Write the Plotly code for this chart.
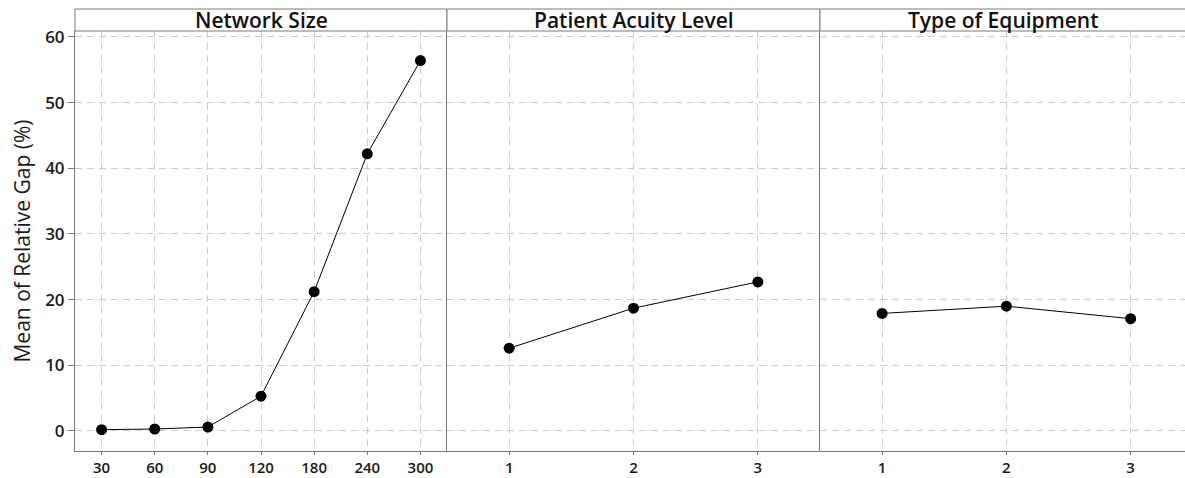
import plotly.graph_objects as go

# Data
network_sizes = ["30", "60", "90", "120", "180", "240", "300"]
network_gap = [0.2, 0.3, 0.6, 5.3, 21.2, 42.2, 56.4]

acuity_levels = [1, 2, 3]
acuity_gap = [12.6, 18.7, 22.7]

equipment_types = [1, 2, 3]
equipment_gap = [17.9, 19.0, 17.1]

panel_titles = ["Network Size", "Patient Acuity Level", "Type of Equipment"]
y_ticks = [0, 10, 20, 30, 40, 50, 60]

W, H = 1185, 478
ml, mr, mt, mb = 75, 0, 31, 27
pw = W - ml - mr
ph = H - mt - mb

def px_to_paper_x(px):
    return (px - ml) / pw

d1 = [0, px_to_paper_x(447)]
d2 = [px_to_paper_x(447), px_to_paper_x(820)]
d3 = [px_to_paper_x(820), 1.0]
header_top = 1 + 22 / ph

FONT = "Open Sans"
LINE = "#7a7a7a"
GRID = "#cccccc"

fig = go.Figure()
marker = dict(color="black", size=11)
line = dict(color="black", width=1)
fig.add_trace(go.Scatter(x=network_sizes, y=network_gap, mode="lines+markers",
                         marker=marker, line=line, xaxis="x", yaxis="y"))
fig.add_trace(go.Scatter(x=acuity_levels, y=acuity_gap, mode="lines+markers",
                         marker=marker, line=line, xaxis="x2", yaxis="y2"))
fig.add_trace(go.Scatter(x=equipment_types, y=equipment_gap, mode="lines+markers",
                         marker=marker, line=line, xaxis="x3", yaxis="y3"))

ytickfont = dict(family=FONT, size=17, color="#1a1a1a", weight=600)
xtickfont = dict(family=FONT, size=15, color="#1a1a1a", weight=600)
common_x = dict(showline=True, linecolor=LINE, linewidth=1, ticks="outside",
                ticklen=3, tickcolor=LINE, showgrid=True, gridcolor=GRID,
                griddash="7px,5px", gridwidth=1, zeroline=False,
                tickfont=xtickfont, fixedrange=True, automargin=False)
common_y = dict(showline=True, linecolor=LINE, linewidth=1, showgrid=True,
                gridcolor=GRID, griddash="7px,5px", gridwidth=1, zeroline=False,
                range=[-3.05, 60.9], tickvals=y_ticks, fixedrange=True,
                automargin=False)

x3_right = 1 + (W - 882) / 124.3

fig.update_layout(
    width=W, height=H,
    margin=dict(l=ml, r=mr, t=mt, b=mb),
    plot_bgcolor="white", paper_bgcolor="white",
    showlegend=False,
    xaxis=dict(domain=d1, type="category", range=[-0.5, 6.5], anchor="y", **common_x),
    xaxis2=dict(domain=d2, range=[0.5, 3.5], tickvals=acuity_levels, anchor="y2", **common_x),
    xaxis3=dict(domain=d3, range=[0.5, x3_right], tickvals=equipment_types, anchor="y3", **common_x),
    yaxis=dict(anchor="x", ticks="outside", ticklen=6, tickcolor=LINE,
               tickfont=ytickfont,
               title=dict(text="Mean of Relative Gap (%)",
                          font=dict(family=FONT, size=21, color="#1a1a1a", weight=500),
                          standoff=8),
               **common_y),
    yaxis2=dict(anchor="x2", matches="y", showticklabels=False, ticks="", **common_y),
    yaxis3=dict(anchor="x3", matches="y", showticklabels=False, ticks="", **common_y),
)

shapes = []
for (a, b), title in zip([d1, d2, d3], panel_titles):
    x1 = b if b < 1 else 1.02
    shapes.append(dict(type="rect", xref="paper", yref="paper", x0=a, x1=x1,
                       y0=1, y1=header_top, line=dict(color=LINE, width=1),
                       fillcolor="white", layer="above"))
    fig.add_annotation(x=(a + b) / 2, y=(1 + header_top) / 2, xref="paper", yref="paper",
                       text=title, showarrow=False, xanchor="center", yanchor="middle",
                       font=dict(family=FONT, size=21, color="#111111", weight=600))
fig.update_layout(shapes=shapes)

fig.write_html("out.html", config={"displayModeBar": False},
               post_script="document.body.style.margin='0';document.body.style.padding='0';")
